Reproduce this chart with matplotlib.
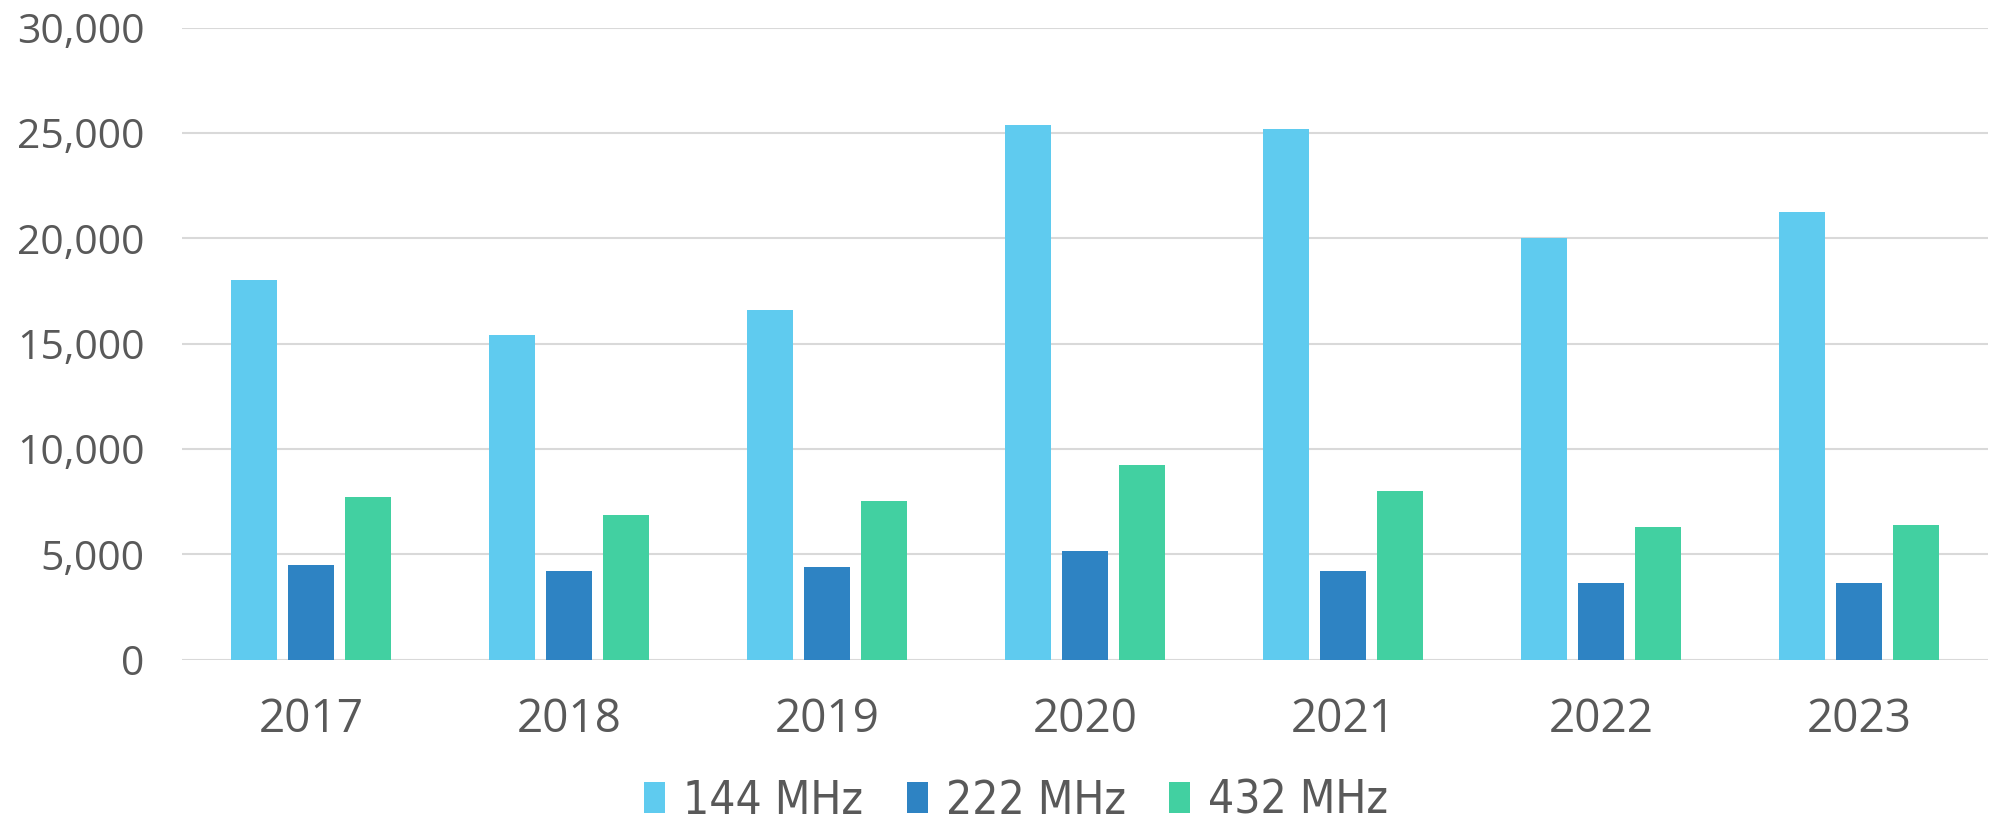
import matplotlib
matplotlib.use("Agg")
import matplotlib.pyplot as plt
import numpy as np
from matplotlib.ticker import FuncFormatter
from matplotlib import font_manager

years = ["2017", "2018", "2019", "2020", "2021", "2022", "2023"]
series_names = ["144 MHz", "222 MHz", "432 MHz"]
mhz144 = [18000, 15400, 16580, 25400, 25200, 20000, 21230]
mhz222 = [4500, 4200, 4400, 5150, 4200, 3640, 3640]
mhz432 = [7730, 6860, 7530, 9250, 8000, 6300, 6390]

colors = ["#5FCBEF", "#2E83C3", "#42D0A1"]
text_color = "#595959"

fig = plt.figure(figsize=(19.89, 8.21), dpi=100)
ax = fig.add_axes([182 / 1989, 161.3 / 821, 1806 / 1989, 632 / 821])

x = np.arange(len(years))
width = 0.176
offset = 0.221
for i, (vals, name) in enumerate(zip([mhz144, mhz222, mhz432], series_names)):
    ax.bar(x + (i - 1) * offset, vals, width, color=colors[i], label=name, zorder=2)

ax.set_xlim(-0.5, len(years) - 0.5)
ax.set_ylim(0, 30000)
ax.set_yticks(range(0, 30001, 5000))
ax.yaxis.set_major_formatter(FuncFormatter(lambda v, p: f"{int(v):,}"))
ax.set_xticks(x)
ax.set_xticklabels(years)

ax.grid(axis="y", color="#D9D9D9", linewidth=1.5, zorder=0)
ax.set_axisbelow(True)
for s in ax.spines.values():
    s.set_visible(False)

ax.tick_params(axis="y", length=0, pad=27, labelsize=29.5, labelcolor=text_color)
ax.tick_params(axis="x", length=0, pad=27, labelsize=33, labelcolor=text_color)
for lab in ax.get_yticklabels() + ax.get_xticklabels():
    lab.set_fontfamily(["Open Sans", "DejaVu Sans"])

# condensed face for the legend, if one is around
narrow = None
for f in font_manager.fontManager.ttflist:
    if f.name == "DejaVu Sans" and f.stretch == "condensed" and f.style == "normal" and f.weight in (400, "normal"):
        narrow = f.fname
        break
if narrow:
    leg_prop = font_manager.FontProperties(fname=narrow, size=33)
else:
    leg_prop = font_manager.FontProperties(family=["Roboto", "DejaVu Sans"], size=30)

leg = fig.legend(loc="center", bbox_to_anchor=(0.511, 0.024), ncol=3, frameon=False,
                 handlelength=0.45, handleheight=0.65, handletextpad=0.4,
                 columnspacing=0.95, borderpad=0, prop=leg_prop)
for t in leg.get_texts():
    t.set_color(text_color)

fig.savefig("out.png", dpi=100)
